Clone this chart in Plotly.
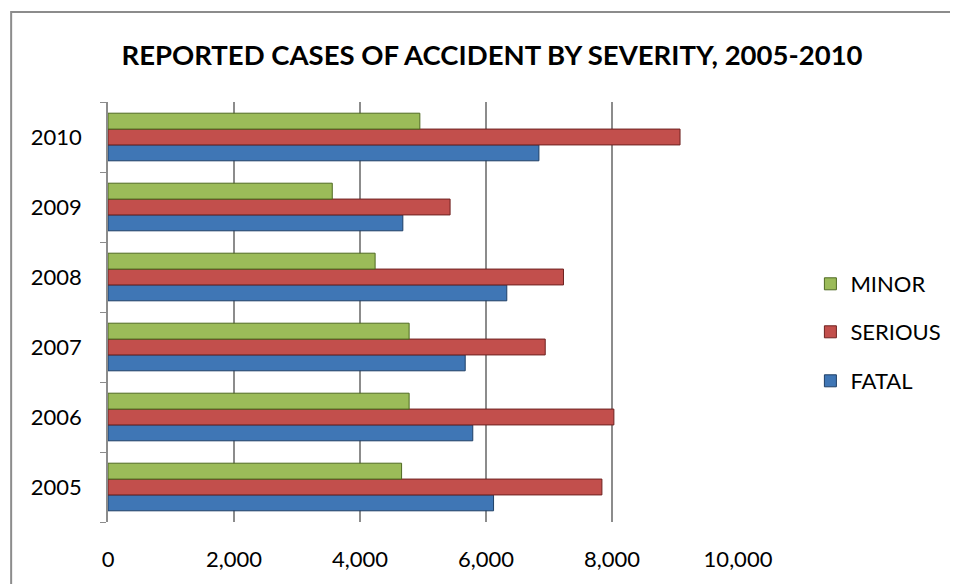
import plotly.graph_objects as go

years = ["2005", "2006", "2007", "2008", "2009", "2010"]
fatal = [6120, 5790, 5670, 6330, 4680, 6840]
serious = [7840, 8030, 6940, 7230, 5430, 9080]
minor = [4660, 4780, 4780, 4240, 3560, 4950]
x_ticks = [0, 2000, 4000, 6000, 8000, 10000]
x_tick_labels = ["0", "2,000", "4,000", "6,000", "8,000", "10,000"]

FONT = "Lato, Carlito, Calibri, sans-serif"

fig = go.Figure()
series = [
    ("FATAL", fatal, "#3f76b5", "#1f3f66", "legend3"),
    ("SERIOUS", serious, "#c24f4c", "#6e2220", "legend2"),
    ("MINOR", minor, "#9bbb59", "#4f6a22", "legend"),
]
for name, vals, col, edge, lg in series:
    fig.add_trace(go.Bar(
        y=years, x=vals, name=name, orientation="h",
        marker=dict(color=col, line=dict(color=edge, width=1)),
        legend=lg, showlegend=True,
    ))

# page has an 8px body margin; figure coords = page coords - 8
OFF = 8
W, H = 958 - OFF, 584 - OFF
L, R, T, B = 108 - OFF, 206, 102 - OFF, 62
pw, ph = W - L - R, H - T - B

def px(x):
    return (x - OFF - L) / pw

def py(y):
    return (H - B - (y - OFF)) / ph

legend_common = dict(font=dict(family=FONT, size=22, color="#000"),
                     bgcolor="rgba(0,0,0,0)", xanchor="left", yanchor="middle",
                     itemwidth=30)

fig.update_layout(
    width=W, height=H,
    margin=dict(l=L, r=R, t=T, b=B),
    paper_bgcolor="white", plot_bgcolor="white",
    showlegend=True,
    barmode="group", bargap=0.32, bargroupgap=0.0,
    title=dict(text="<b>REPORTED CASES OF ACCIDENT BY SEVERITY, 2005-2010</b>",
               font=dict(family=FONT, size=27.5, color="#000"),
               x=(492 - OFF) / W, xanchor="center", y=1 - (55 - OFF) / H, yanchor="middle"),
    legend=dict(x=px(826), y=py(284), **legend_common),
    legend2=dict(x=px(826), y=py(332), **legend_common),
    legend3=dict(x=px(826), y=py(381), **legend_common),
    xaxis=dict(range=[0, 10000], tickvals=x_ticks, ticktext=x_tick_labels,
               showgrid=True, gridcolor="#8c8c8c", gridwidth=1.5,
               zeroline=False, showline=False, ticks="",
               ticklabelstandoff=22,
               tickfont=dict(family=FONT, size=22, color="#000")),
    yaxis=dict(type="category", categoryorder="array", categoryarray=years,
               showline=True, linecolor="#8c8c8c", linewidth=1.5,
               ticks="outside", tickson="boundaries", ticklen=6, tickcolor="#8c8c8c",
               ticklabelstandoff=20, showgrid=False, zeroline=False,
               tickfont=dict(family=FONT, size=22, color="#000")),
    shapes=[dict(type="rect", xref="paper", yref="paper",
                 x0=px(9), x1=px(1000), y0=py(12), y1=py(640),
                 line=dict(color="#8c8c8c", width=2), fillcolor="rgba(0,0,0,0)",
                 layer="below")],
)

fig.write_html("out.html")
